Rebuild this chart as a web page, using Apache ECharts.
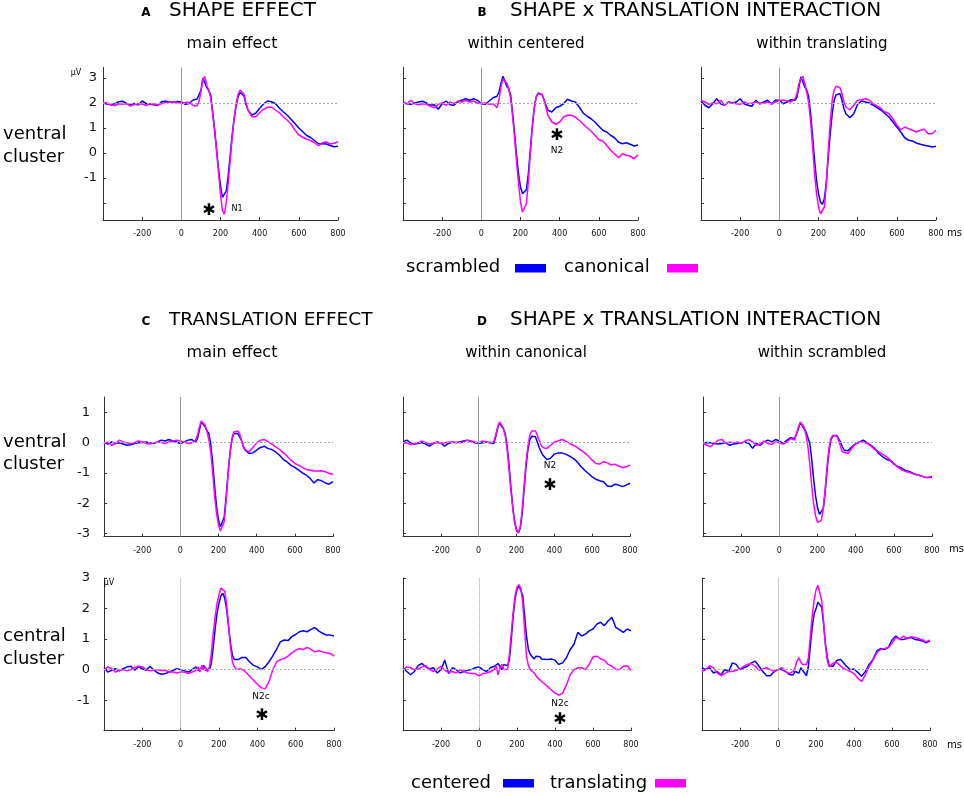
<!DOCTYPE html>
<html>
<head>
<meta charset="utf-8">
<style>
  html, body { margin: 0; padding: 0; background: #fff; }
  #chart { width: 964px; height: 796px; }
</style>
<script src="https://cdn.jsdelivr.net/npm/echarts@6/dist/echarts.min.js"></script>
</head>
<body>
<div id="chart"></div>
<script>
// sample times (ms) - finer around the early components
const times = [
  -400, -380, -360, -340, -320, -300, -280, -260, -240, -220, -200, -180, -160, -140, -120, -100, -80, -60, -40, -20, 0, 20, 40, 60, 80,
  90, 100, 110, 120, 130, 140, 150, 160, 170, 180, 190, 200, 210, 220, 230, 240, 250, 260, 270, 280, 290, 300, 310, 320, 330,
  340, 360, 380, 400, 420, 440, 460, 480, 500, 520, 540, 560, 580, 600, 620, 640, 660, 680, 700, 720, 740, 760, 780, 800
];

const xTicks = [-200, 0, 200, 400, 600, 800];

// A - shape effect, main effect (ventral)
const shapeScrambled = [
  2.0, 1.96, 1.93, 1.97, 2.05, 2.07, 1.98, 1.93, 1.98, 1.92, 2.08, 1.98, 1.95, 1.93, 1.9, 2.06, 2.07, 2.04, 2.02, 2.06, 2.04, 1.95, 1.98, 2.12, 2.16,
  2.2, 2.5, 3.0, 3.02, 2.62, 2.5, 2.3, 1.65, 0.95, 0.15, -0.65, -1.3, -1.78, -1.85, -1.5, -0.85, -0.05, 0.75, 1.4, 1.9, 2.25, 2.42, 2.48, 2.28, 1.95,
  1.72, 1.52, 1.59, 1.79, 1.96, 2.08, 2.05, 1.98, 1.8, 1.65, 1.52, 1.35, 1.18, 1.0, 0.85, 0.7, 0.62, 0.5, 0.37, 0.37, 0.36, 0.3, 0.25, 0.27
];
const shapeCanonical = [
  2.02, 2.0, 1.92, 1.9, 1.97, 1.95, 1.98, 1.88, 1.95, 1.97, 1.96, 1.9, 1.97, 1.96, 1.92, 1.98, 2.02, 2.03, 2.05, 2.02, 1.98, 2.02, 2.03, 1.9, 1.88,
  2.05, 2.45, 2.95, 3.05, 2.7, 2.5, 2.2, 1.55, 0.85, 0.05, -0.8, -1.65, -2.3, -2.45, -1.95, -1.15, -0.25, 0.65, 1.4, 1.95, 2.35, 2.52, 2.55, 2.35, 2.0,
  1.72, 1.45, 1.45, 1.61, 1.75, 1.83, 1.83, 1.72, 1.61, 1.45, 1.32, 1.16, 0.92, 0.72, 0.63, 0.55, 0.5, 0.41, 0.29, 0.41, 0.44, 0.36, 0.39, 0.45
];

// B - within centered
const centeredScrambled = [
  2.01, 1.97, 1.95, 2.0, 2.04, 2.07, 2.0, 1.91, 1.93, 1.75, 1.97, 2.08, 1.93, 1.91, 2.04, 2.11, 2.17, 2.11, 2.17, 2.11, 1.97, 1.95, 2.08, 2.21, 2.27,
  2.44, 2.77, 3.07, 2.88, 2.67, 2.57, 2.31, 1.57, 0.77, -0.09, -0.83, -1.36, -1.63, -1.69, -1.47, -0.83, 0.11, 1.04, 1.77, 2.24, 2.4, 2.41, 2.33, 2.13, 1.91,
  1.71, 1.64, 1.81, 1.87, 1.97, 2.15, 2.08, 2.04, 1.84, 1.6, 1.47, 1.37, 1.24, 1.07, 0.91, 0.84, 0.71, 0.61, 0.44, 0.37, 0.41, 0.35, 0.28, 0.32
];
const centeredCanonical = [
  2.0, 1.97, 2.11, 1.97, 1.93, 1.97, 1.95, 1.87, 1.81, 1.95, 2.0, 1.91, 2.04, 1.97, 2.08, 2.04, 2.11, 2.04, 2.08, 2.0, 1.97, 2.0, 1.95, 1.97, 1.81,
  2.11, 2.64, 2.97, 3.04, 2.8, 2.57, 2.17, 1.44, 0.57, -0.36, -1.23, -1.96, -2.36, -2.4, -2.03, -1.16, -0.03, 1.04, 1.84, 2.24, 2.37, 2.4, 2.35, 2.13, 1.81,
  1.51, 1.24, 1.15, 1.24, 1.44, 1.51, 1.51, 1.44, 1.31, 1.15, 1.01, 0.88, 0.71, 0.53, 0.48, 0.31, 0.11, -0.03, -0.19, -0.03, -0.09, -0.13, -0.23, -0.07
];

// B - within translating
const translatingScrambled = [
  2.08, 1.91, 1.81, 1.97, 2.17, 1.97, 1.91, 2.04, 2.0, 2.04, 2.17, 1.97, 1.91, 1.87, 2.11, 1.97, 2.04, 2.11, 1.97, 2.11, 2.11, 1.97, 2.04, 2.13, 2.11,
  2.24, 2.64, 3.04, 3.07, 2.64, 2.51, 2.24, 1.57, 0.64, -0.29, -1.09, -1.63, -1.96, -2.05, -1.83, -1.16, -0.16, 0.77, 1.57, 2.11, 2.33, 2.4, 2.37, 2.11, 1.77,
  1.57, 1.41, 1.57, 1.95, 2.08, 2.04, 2.0, 1.91, 1.81, 1.71, 1.57, 1.44, 1.24, 1.04, 0.84, 0.61, 0.51, 0.48, 0.4, 0.35, 0.31, 0.28, 0.24, 0.27
];
const translatingCanonical = [
  2.11, 2.04, 1.95, 2.0, 1.97, 2.11, 1.91, 2.04, 2.0, 1.97, 1.95, 2.04, 1.97, 2.0, 2.04, 1.97, 2.0, 2.04, 1.95, 2.04, 2.11, 2.11, 2.08, 2.04, 2.17,
  2.37, 2.77, 2.97, 3.07, 2.77, 2.44, 1.97, 1.24, 0.24, -0.83, -1.63, -2.16, -2.43, -2.45, -2.16, -1.23, 0.11, 1.24, 2.11, 2.53, 2.67, 2.71, 2.61, 2.37, 2.04,
  1.84, 1.73, 1.91, 2.11, 2.13, 2.17, 2.11, 1.97, 1.87, 1.77, 1.64, 1.57, 1.37, 1.11, 0.93, 1.04, 0.97, 0.91, 0.84, 0.91, 0.95, 0.77, 0.77, 0.91
];

// C - translation effect, ventral
const ventralCentered = [
  0, -0.05, 0.02, -0.03, -0.01, -0.05, -0.09, -0.07, -0.03, -0.01, 0, 0.02, -0.01, -0.03, 0.02, 0.08, 0.05, 0.1, 0.05, 0.02, -0.03, 0.02, 0.08, 0.1, 0.02,
  0.13, 0.41, 0.68, 0.73, 0.52, 0.38, 0.3, -0.09, -0.69, -1.46, -2.12, -2.55, -2.77, -2.83, -2.45, -1.79, -1.02, -0.36, 0.08, 0.3, 0.35, 0.3, 0.24, 0.08, -0.14,
  -0.25, -0.36, -0.34, -0.25, -0.16, -0.12, -0.2, -0.23, -0.31, -0.42, -0.56, -0.64, -0.75, -0.82, -0.91, -1.0, -1.07, -1.18, -1.33, -1.22, -1.26, -1.33, -1.37, -1.29
];
const ventralTranslating = [
  -0.03, 0.02, -0.09, -0.03, 0.08, 0.02, -0.01, -0.03, 0, 0.05, 0.02, -0.03, -0.05, -0.01, 0.02, 0, -0.03, 0.02, 0.05, 0.08, 0.05, 0.02, -0.03, -0.01, 0.08,
  0.24, 0.52, 0.71, 0.76, 0.57, 0.35, 0.08, -0.36, -1.02, -1.79, -2.34, -2.72, -2.91, -2.94, -2.61, -1.9, -1.07, -0.36, 0.13, 0.35, 0.41, 0.38, 0.3, 0.08, -0.12,
  -0.23, -0.31, -0.16, -0.01, 0.08, 0.1, 0.02, -0.05, -0.14, -0.23, -0.34, -0.45, -0.58, -0.69, -0.75, -0.82, -0.89, -0.91, -0.94, -0.94, -0.93, -0.96, -1.02, -1.04
];

// D - within canonical, ventral
const canonVentralCentered = [
  0.02, 0.08, -0.01, -0.05, -0.03, 0, -0.05, -0.12, -0.03, 0.02, -0.01, -0.12, -0.03, 0.02, -0.01, 0.02, 0.05, 0.08, 0.02, -0.01, -0.03, -0.01, 0.02, -0.01, -0.03,
  0.19, 0.46, 0.64, 0.65, 0.46, 0.3, -0.09, -0.69, -1.45, -2.11, -2.6, -2.87, -2.96, -2.82, -2.33, -1.56, -0.8, -0.25, 0.08, 0.21, 0.26, 0.19, 0.02, -0.16, -0.31,
  -0.42, -0.56, -0.52, -0.38, -0.34, -0.34, -0.38, -0.45, -0.52, -0.63, -0.78, -0.91, -1.02, -1.13, -1.21, -1.26, -1.29, -1.43, -1.45, -1.37, -1.4, -1.45, -1.4, -1.34
];
const canonVentralTranslating = [
  -0.03, -0.01, -0.07, -0.03, -0.01, 0.05, -0.01, -0.05, -0.03, 0, -0.03, -0.01, 0.02, 0, 0.02, -0.01, 0.02, 0.08, 0.05, 0.02, -0.01, 0.05, 0.02, 0, 0.02,
  0.24, 0.51, 0.68, 0.65, 0.49, 0.24, -0.2, -0.85, -1.56, -2.16, -2.63, -2.9, -2.98, -2.79, -2.22, -1.45, -0.69, -0.14, 0.24, 0.38, 0.43, 0.38, 0.24, 0.08, -0.09,
  -0.16, -0.2, -0.09, 0.02, 0.05, 0.1, 0.05, -0.03, -0.09, -0.16, -0.25, -0.34, -0.45, -0.58, -0.69, -0.71, -0.63, -0.67, -0.74, -0.71, -0.78, -0.82, -0.8, -0.74
];

// D - within scrambled, ventral
const scrVentralCentered = [
  -0.01, 0, -0.01, -0.03, -0.05, -0.03, -0.01, -0.09, -0.05, -0.03, -0.01, 0.02, -0.03, -0.19, -0.03, -0.09, 0.02, 0.08, 0.02, 0.1, 0.05, -0.03, 0.08, 0.16, 0.13,
  0.18, 0.45, 0.67, 0.64, 0.45, 0.35, 0.29, -0.03, -0.57, -1.22, -1.76, -2.14, -2.36, -2.41, -2.19, -1.65, -0.9, -0.3, 0.08, 0.21, 0.24, 0.24, 0.18, 0.02, -0.14,
  -0.25, -0.27, -0.14, -0.03, 0.02, 0.08, -0.01, -0.09, -0.19, -0.36, -0.46, -0.55, -0.59, -0.7, -0.79, -0.84, -0.92, -0.95, -1.01, -1.06, -1.09, -1.14, -1.15, -1.14
];
const scrVentralTranslating = [
  -0.03, -0.09, -0.14, -0.03, 0.08, 0.1, -0.03, 0.02, -0.01, 0.02, -0.03, 0.05, 0.1, 0.02, -0.09, -0.05, 0.05, -0.03, -0.06, 0.02, -0.01, -0.05, 0.02, 0.13, 0.08,
  0.29, 0.51, 0.67, 0.7, 0.51, 0.24, -0.14, -0.74, -1.44, -2.03, -2.41, -2.63, -2.68, -2.57, -2.19, -1.55, -0.79, -0.19, 0.13, 0.24, 0.26, 0.22, 0.08, -0.12, -0.3,
  -0.36, -0.36, -0.19, -0.05, 0.02, 0.02, -0.03, -0.12, -0.23, -0.3, -0.38, -0.46, -0.57, -0.68, -0.81, -0.9, -0.95, -0.98, -1.03, -1.06, -1.09, -1.14, -1.15, -1.11
];

// C - translation effect, central
const centralCentered = [
  0.07, -0.08, -0.02, 0.03, -0.04, 0.03, 0.09, 0.11, -0.02, 0.09, 0.03, -0.02, 0.11, -0.02, -0.11, -0.15, -0.13, -0.08, -0.02, 0.03, 0, -0.04, -0.08, 0, 0.09,
  -0.02, -0.08, 0.03, 0.14, -0.02, -0.04, 0, 0.2, 0.75, 1.35, 1.85, 2.18, 2.42, 2.5, 2.34, 1.96, 1.41, 0.86, 0.47, 0.33, 0.29, 0.33, 0.36, 0.4, 0.36,
  0.4, 0.25, 0.14, 0.09, 0, 0.09, 0.25, 0.44, 0.66, 0.91, 0.97, 0.95, 1.08, 1.15, 1.24, 1.27, 1.24, 1.32, 1.38, 1.27, 1.19, 1.13, 1.13, 1.1
];
const centralTranslating = [
  -0.02, 0.09, 0.03, -0.08, -0.02, 0, -0.04, 0, 0.07, 0.11, 0.09, 0, -0.04, -0.02, 0, -0.04, -0.02, -0.08, -0.08, -0.11, -0.08, -0.08, -0.13, -0.08, -0.02,
  0.09, -0.08, 0.14, -0.02, 0.09, -0.08, 0.09, 0.53, 1.19, 1.74, 2.18, 2.45, 2.67, 2.73, 2.56, 2.12, 1.46, 0.75, 0.25, 0.09, 0, 0, 0.03, 0.03, -0.02,
  -0.08, -0.22, -0.35, -0.48, -0.59, -0.63, -0.41, -0.02, 0.25, 0.33, 0.36, 0.44, 0.55, 0.64, 0.69, 0.66, 0.73, 0.66, 0.58, 0.62, 0.58, 0.55, 0.53, 0.44
];

// D - within canonical, central
const canonCentralCentered = [
  0.06, -0.06, -0.17, -0.06, 0.13, 0.2, 0.09, 0.02, 0.06, -0.11, 0, 0.31, -0.13, 0.06, 0, -0.11, -0.06, -0.02, 0, 0.06, 0.09, 0, -0.06, 0.06, 0.11,
  0.17, 0.2, 0.11, 0, 0.17, 0.11, 0.13, 0.33, 0.99, 1.77, 2.32, 2.63, 2.76, 2.74, 2.43, 1.77, 1.1, 0.66, 0.5, 0.44, 0.35, 0.44, 0.39, 0.42, 0.35,
  0.39, 0.33, 0.35, 0.31, 0.17, 0.22, 0.39, 0.66, 0.83, 1.22, 1.1, 1.16, 1.27, 1.33, 1.49, 1.55, 1.44, 1.6, 1.71, 1.38, 1.3, 1.22, 1.33, 1.27
];
const canonCentralTranslating = [
  0, 0.09, 0.06, 0, 0.02, 0.09, 0.13, 0, -0.06, 0.02, 0.11, -0.02, -0.09, -0.06, -0.11, 0, -0.06, -0.11, -0.13, -0.13, -0.2, -0.13, -0.11, -0.06, 0,
  0.13, -0.17, 0.06, 0.17, 0, -0.06, 0, 0.5, 1.22, 1.88, 2.43, 2.71, 2.78, 2.67, 2.21, 1.33, 0.44, 0.13, 0, -0.06, -0.11, -0.2, -0.28, -0.33, -0.39,
  -0.44, -0.55, -0.66, -0.77, -0.83, -0.77, -0.5, -0.17, 0, 0.06, 0.06, 0, 0.17, 0.42, 0.44, 0.35, 0.31, 0.17, 0.11, 0, 0, 0.11, 0.13, -0.02
];

// D - within scrambled, central
const scrCentralCentered = [
  0.06, 0, 0.06, -0.11, -0.06, -0.17, 0, -0.06, 0.22, 0.17, 0, 0.06, 0.11, 0.22, 0.28, 0.11, -0.06, -0.2, -0.2, -0.06, 0, 0, -0.06, -0.17, -0.17,
  -0.06, 0, -0.11, 0.06, 0, -0.11, -0.2, 0.11, 0.77, 1.38, 1.82, 1.99, 2.21, 2.27, 2.04, 1.49, 0.83, 0.39, 0.11, 0.06, 0.11, 0.22, 0.31, 0.35, 0.33,
  0.28, 0.11, 0, 0.02, -0.09, -0.22, -0.06, 0.17, 0.33, 0.61, 0.69, 0.66, 0.72, 0.97, 1.1, 0.99, 0.99, 1.02, 1.05, 0.99, 0.97, 0.94, 0.88, 0.94
];
const scrCentralTranslating = [
  -0.06, 0, 0.13, 0.06, -0.11, -0.2, -0.13, -0.06, -0.06, -0.02, 0.02, 0.11, 0.17, 0.2, 0.11, -0.02, 0.02, 0.06, 0, -0.06, 0, 0.06, -0.06, -0.13, -0.06,
  0.06, 0.28, 0.39, 0.24, 0.17, 0.17, 0.17, 0.39, 1.1, 1.77, 2.27, 2.6, 2.76, 2.71, 2.27, 1.55, 0.77, 0.28, 0.09, 0.11, 0.22, 0.28, 0.24, 0.17, 0.11,
  0.06, 0, -0.06, -0.13, -0.28, -0.39, -0.17, 0.11, 0.31, 0.55, 0.66, 0.69, 0.72, 0.86, 1.05, 0.99, 1.1, 1.02, 1.08, 1.05, 1.02, 0.97, 0.91, 0.97
];

const BLUE = '#0000ff';
const PINK = '#ff00ff';
const FONT = '"DejaVu Sans", Verdana, sans-serif';

// one entry per row of panels: vertical placement and y scale
const rows = [
  { top: 67.5, bottom: 220, min: -2.68, max: 3.42, ticks: [-2, -1, 0, 1, 2, 3], labels: [-1, 0, 1, 2, 3], base: 2, margin: 6, zero: 'solid' },
  { top: 397, bottom: 536.7, min: -3.1, max: 1.5, ticks: [-3, -2, -1, 0, 1], labels: [-3, -2, -1, 0, 1], base: 0, margin: 14, zero: 'solid' },
  { top: 578, bottom: 730.7, min: -2, max: 3, ticks: [-2, -1, 0, 1, 2, 3], labels: [-1, 0, 1, 2, 3], base: 0, margin: 14, zero: 'dotted' }
];
const colsByRow = [
  [[103, 338], [403, 638], [701, 936]],
  [[104, 333], [403, 630], [703, 932]],
  [[104, 334], [403, 631], [702, 930]]
];
const panelData = [
  [[shapeScrambled, shapeCanonical], [centeredScrambled, centeredCanonical], [translatingScrambled, translatingCanonical]],
  [[ventralCentered, ventralTranslating], [canonVentralCentered, canonVentralTranslating], [scrVentralCentered, scrVentralTranslating]],
  [[centralCentered, centralTranslating], [canonCentralCentered, canonCentralTranslating], [scrCentralCentered, scrCentralTranslating]]
];

function pairs(values) {
  return times.map(function (t, i) { return [t, values[i]]; });
}

let grids = [], xAxes = [], yAxes = [], series = [];

rows.forEach(function (row, r) {
  colsByRow[r].forEach(function (c, col) {
    let idx = grids.length;
    grids.push({
      left: c[0], top: row.top, width: c[1] - c[0], height: row.bottom - row.top,
      containLabel: false, outerBoundsMode: 'none'
    });
    xAxes.push({
      type: 'value', gridIndex: idx, min: -400, max: 800,
      axisLine: { show: true, onZero: false, lineStyle: { color: '#333', width: 1 } },
      axisTick: { show: true, inside: true, length: 3, customValues: xTicks, lineStyle: { color: '#333' } },
      axisLabel: { show: true, customValues: xTicks, fontSize: 8, color: '#111', margin: 10, fontFamily: FONT },
      splitLine: { show: false }
    });
    yAxes.push({
      type: 'value', gridIndex: idx, min: row.min, max: row.max,
      axisLine: { show: true, onZero: false, lineStyle: { color: '#333', width: 1 } },
      axisTick: { show: true, inside: true, length: 3, customValues: row.ticks, lineStyle: { color: '#333' } },
      axisLabel: { show: col === 0, customValues: row.labels, fontSize: 13, color: '#111', margin: row.margin, fontFamily: FONT },
      splitLine: { show: false }
    });
    let pd = panelData[r][col];
    series.push({
      type: 'line', xAxisIndex: idx, yAxisIndex: idx, data: pairs(pd[0]),
      showSymbol: false, lineStyle: { color: BLUE, width: 1.5 }, itemStyle: { color: BLUE },
      markLine: {
        silent: true, symbol: 'none', label: { show: false }, animation: false,
        data: [
          { xAxis: 0, lineStyle: { color: '#999', width: 1, type: row.zero } },
          { yAxis: row.base, lineStyle: { color: '#aaa', width: 1, type: [2, 2] } }
        ]
      }
    });
    series.push({
      type: 'line', xAxisIndex: idx, yAxisIndex: idx, data: pairs(pd[1]),
      showSymbol: false, lineStyle: { color: PINK, width: 1.5 }, itemStyle: { color: PINK }
    });
  });
});

function txt(text, x, y, size, opts) {
  opts = opts || {};
  return {
    type: 'text', silent: true, z: 100,
    style: {
      text: text, x: x, y: y,
      font: (opts.bold ? 'bold ' : '') + size + 'px ' + FONT,
      fill: opts.color || '#000',
      textAlign: opts.align || 'left', align: opts.align || 'left',
      textVerticalAlign: 'middle', verticalAlign: 'middle'
    }
  };
}
function box(x, y, color) {
  return { type: 'rect', silent: true, z: 100, shape: { x: x, y: y, width: 31, height: 8.5 }, style: { fill: color } };
}

const graphics = [
  // headings
  txt('A', 146, 13, 12, { bold: true, align: 'center' }),
  txt('SHAPE EFFECT', 169, 11, 20),
  txt('B', 482, 13, 12, { bold: true, align: 'center' }),
  txt('SHAPE x TRANSLATION INTERACTION', 510, 11, 20),
  txt('main effect', 232, 44, 16, { align: 'center' }),
  txt('within centered', 526, 44, 15, { align: 'center' }),
  txt('within translating', 822, 44, 15, { align: 'center' }),
  txt('C', 146, 322, 12, { bold: true, align: 'center' }),
  txt('TRANSLATION EFFECT', 169, 320, 18.5),
  txt('D', 482, 322, 12, { bold: true, align: 'center' }),
  txt('SHAPE x TRANSLATION INTERACTION', 510, 320, 20),
  txt('main effect', 232, 353, 16, { align: 'center' }),
  txt('within canonical', 526, 353, 15, { align: 'center' }),
  txt('within scrambled', 822, 353, 15, { align: 'center' }),
  // row labels
  txt('ventral', 3, 134, 18), txt('cluster', 3, 157, 18),
  txt('ventral', 3, 442, 18), txt('cluster', 3, 464, 18),
  txt('central', 3, 636, 18), txt('cluster', 3, 659, 18),
  // units
  txt('\u03bcV', 76, 73, 8, { align: 'center' }),
  txt('\u03bcV', 109, 583, 8, { align: 'center' }),
  txt('ms', 947, 233, 10), txt('ms', 949, 549, 10), txt('ms', 947, 745, 10),
  // legends
  txt('scrambled', 406, 267, 18), box(515, 264, BLUE),
  txt('canonical', 564, 267, 18), box(667, 264, PINK),
  txt('centered', 411, 783, 18), box(503, 779, BLUE),
  txt('translating', 550, 783, 18), box(655, 779, PINK),
  // component labels and significance marks
  txt('\u2731', 209, 211, 16, { align: 'center' }), txt('N1', 237, 209, 8, { align: 'center' }),
  txt('\u2731', 557, 136, 16, { align: 'center' }), txt('N2', 557, 151, 9, { align: 'center' }),
  txt('N2', 550, 466, 9, { align: 'center' }), txt('\u2731', 550, 486, 16, { align: 'center' }),
  txt('N2c', 261, 697, 9, { align: 'center' }), txt('\u2731', 262, 716, 16, { align: 'center' }),
  txt('N2c', 560, 704, 9, { align: 'center' }), txt('\u2731', 560, 720, 16, { align: 'center' })
];

const chart = echarts.init(document.getElementById('chart'));
chart.setOption({
  animation: false,
  backgroundColor: '#fff',
  grid: grids,
  xAxis: xAxes,
  yAxis: yAxes,
  series: series,
  graphic: graphics
});
</script>
</body>
</html>
